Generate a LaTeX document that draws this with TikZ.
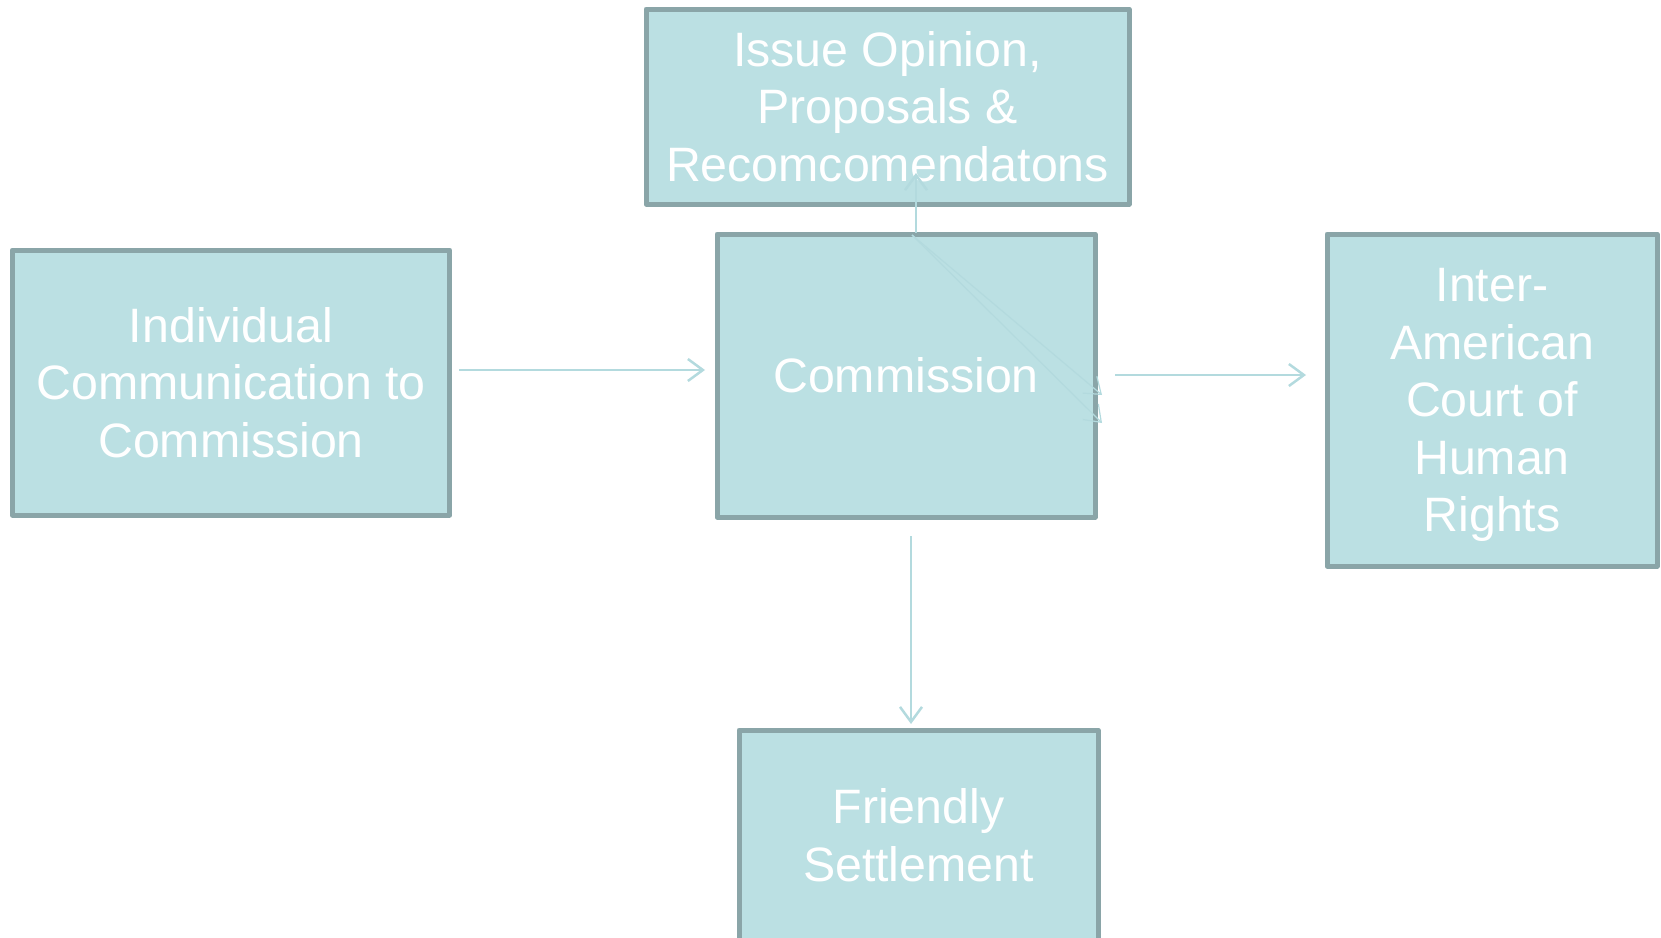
\documentclass[tikz,border=0pt]{standalone}
\usepackage{fontspec}
\setmainfont{Liberation Sans}
\usetikzlibrary{arrows.meta}
\definecolor{boxfill}{HTML}{BBE0E3}
\definecolor{boxline}{HTML}{8AA5A8}
\definecolor{arrcol}{HTML}{B3DADE}
\tikzset{
  flowbox/.style={draw=boxline, fill=boxfill, line width=5pt, line join=round,
    rectangle, inner sep=0pt, outer sep=0pt, align=center, text=white,
    font=\fontsize{48.3}{57.5}\selectfont},
  arr/.style={draw=arrcol, line width=2.5pt, -{Straight Barb[length=15pt,width=22pt]}}
}
\begin{document}
\begin{tikzpicture}[x=1pt,y=-1pt]
\useasboundingbox (0,0) rectangle (1661,937);
\node[flowbox, minimum width=437.5pt, minimum height=265pt] (indiv) at (231,382.5)
  {Individual\\Communication to\\Commission};
\node[flowbox, minimum width=378pt, minimum height=283pt] (comm) at (906,375.5)
  {Commission};
\node[flowbox, minimum width=483pt, minimum height=195pt] (issue) at (887.5,106.5)
  {Issue Opinion,\\Proposals \&\\Recomcomendatons};
\node[flowbox, minimum width=330pt, minimum height=332pt, text depth=0pt] (court) at (1492,400)
  {Inter-\\American\\Court of\\Human\\Rights};
\node[flowbox, minimum width=359pt, minimum height=210pt] (friendly) at (918.5,835)
  {Friendly\\Settlement};
% connector end points
\coordinate (a1s) at (459,370);  \coordinate (a1e) at (705,370);
\coordinate (a2s) at (1115,375); \coordinate (a2e) at (1306,375);
\coordinate (a3s) at (911,536);  \coordinate (a3e) at (911,724);
\coordinate (a4s) at (916,233);  \coordinate (a4e) at (916,173);
\coordinate (d0)  at (912,235);
\coordinate (d1)  at (1102,395); \coordinate (d2) at (1102,423);
\draw[arr] (a1s) -- (a1e);
\draw[arr] (a2s) -- (a2e);
\draw[arr] (a3s) -- (a3e);
\draw[arr] (a4s) -- (a4e);
\draw[arr, line width=1.2pt] (d0) -- (d1);
\draw[arr, line width=1.2pt] (d0) -- (d2);
\end{tikzpicture}
\end{document}
